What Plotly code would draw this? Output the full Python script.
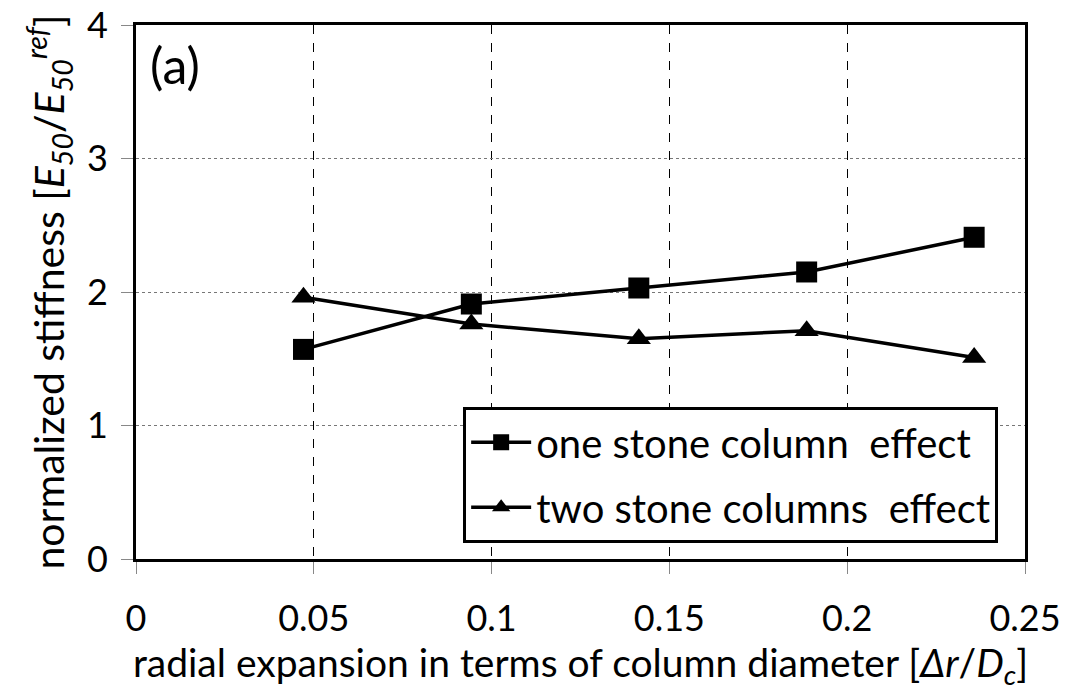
import plotly.graph_objects as go

x_vals = [0.0471, 0.0943, 0.1414, 0.1886, 0.2357]
one_column = [1.57, 1.91, 2.03, 2.15, 2.41]
two_columns = [1.96, 1.76, 1.65, 1.71, 1.51]
series_names = ["one stone column  effect", "two stone columns  effect"]
x_ticks = [0, 0.05, 0.1, 0.15, 0.2, 0.25]
x_tick_text = ["0", "0.05", "0.1", "0.15", "0.2", "0.25"]
y_ticks = [0, 1, 2, 3, 4]

FONT = "Lato"

fig = go.Figure()
fig.add_trace(go.Scatter(
    x=x_vals, y=one_column, mode="lines+markers", name=series_names[0],
    legendgroup="g1",
    line=dict(color="black", width=3.5),
    marker=dict(symbol="square", size=21, color="black"),
))
fig.add_trace(go.Scatter(
    x=x_vals, y=two_columns, mode="lines+markers", name=series_names[1],
    legendgroup="g2",
    line=dict(color="black", width=3.5),
    marker=dict(symbol="triangle-up", size=21, color="black"),
))

fig.update_layout(
    width=1069, height=695,
    margin=dict(l=128, r=52, t=17, b=144, autoexpand=False),
    paper_bgcolor="white", plot_bgcolor="white",
    font=dict(family=FONT, size=36, color="black"),
    showlegend=True,
    legend=dict(
        x=0.368, y=0.285, xanchor="left", yanchor="top",
        bordercolor="black", borderwidth=3, bgcolor="white",
        font=dict(family=FONT, size=40, color="black"),
        itemwidth=60, tracegroupgap=10,
    ),
    annotations=[dict(
        text="(a)", x=0.014, y=0.985, xref="paper", yref="paper",
        xanchor="left", yanchor="top", showarrow=False,
        font=dict(family=FONT, size=50, color="black"),
    )],
)

fig.update_xaxes(
    range=[0, 0.25], tickvals=x_ticks, ticktext=x_tick_text,
    showline=True, linecolor="black", linewidth=3, mirror=True,
    showgrid=True, gridcolor="black", gridwidth=1, griddash="dash",
    ticks="outside", ticklen=12, tickcolor="#888", tickwidth=1,
    ticklabelstandoff=14, zeroline=False, ticklabeloverflow="allow",
    automargin=False,
    tickfont=dict(family=FONT, size=36, color="black"),
    title=dict(text="radial expansion in terms of column diameter [<i>Δr</i>/<i>D<sub>c</sub></i>]",
               font=dict(family=FONT, size=39, color="black"), standoff=8),
)
fig.update_yaxes(
    range=[0, 4], tickvals=y_ticks,
    showline=True, linecolor="black", linewidth=3, mirror=True,
    showgrid=True, gridcolor="#777", gridwidth=1, griddash="dot",
    ticks="outside", ticklen=12, tickcolor="#888", tickwidth=1,
    ticklabelstandoff=6, zeroline=False, ticklabeloverflow="allow",
    automargin=False,
    tickfont=dict(family=FONT, size=36, color="black"),
    title=dict(text="normalized stiffness [<i>E<sub>50</sub></i>/<i>E<sub>50</sub><sup>ref</sup></i>]",
               font=dict(family=FONT, size=41, color="black"), standoff=10),
)

fig.write_html("out.html")
